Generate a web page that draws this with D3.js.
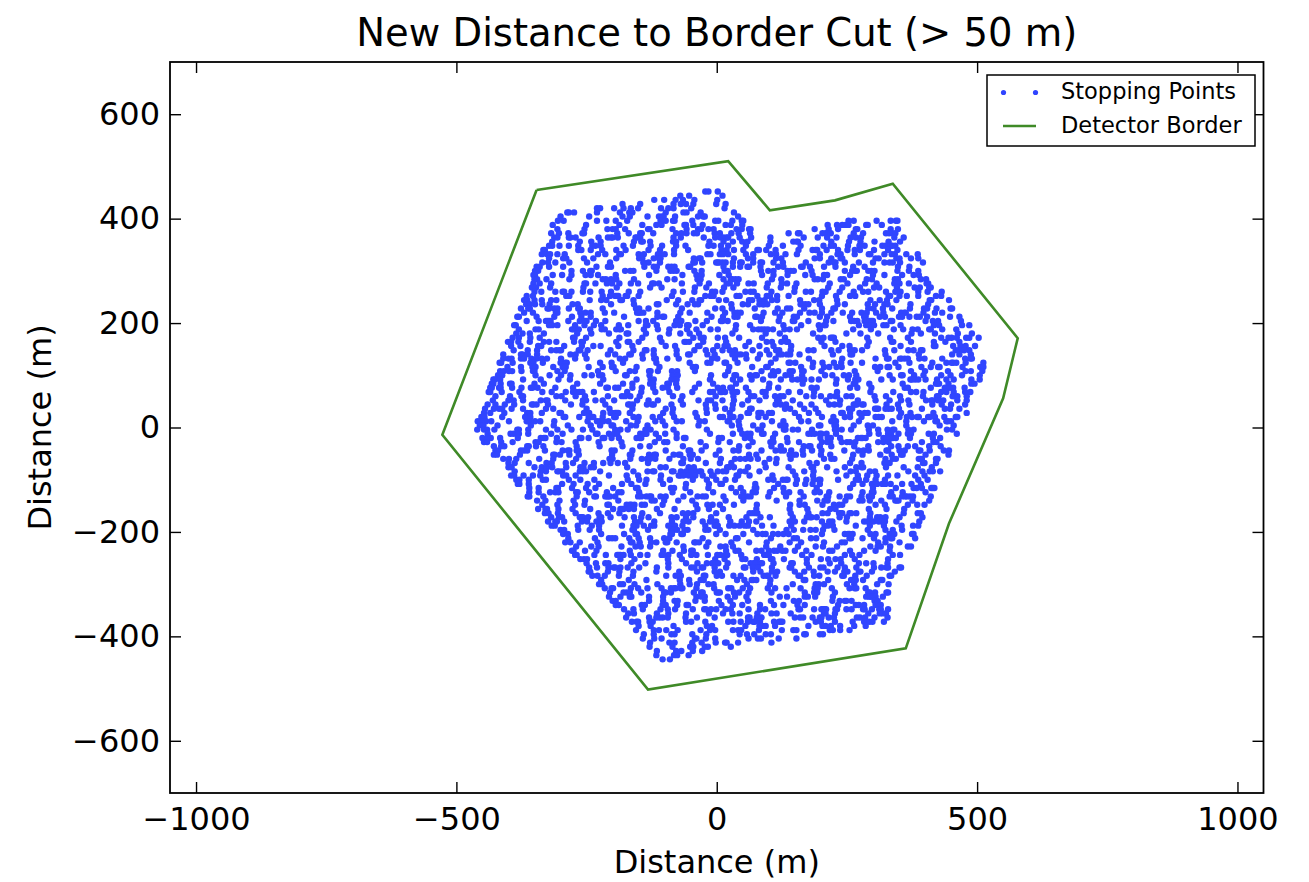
<!DOCTYPE html>
<html><head><meta charset="utf-8">
<script src="https://cdn.jsdelivr.net/npm/d3@7/dist/d3.min.js"></script>
<style>body{margin:0;background:#fff;}svg{display:block;}</style>
</head><body><svg id="chart" width="1309" height="882"></svg>
<script>
const titleText = "New Distance to Border Cut (> 50 m)";
const xLabelText = "Distance (m)";
const yLabelText = "Distance (m)";
const xTicks = [-1000, -500, 0, 500, 1000];
const yTicks = [-600, -400, -200, 0, 200, 400, 600];
const xDomain = [-1050, 1050];
const yDomain = [-700, 700];
const legendLabels = ["Stopping Points", "Detector Border"];
// Detector border polygon (m)
const borderX = [-346, 22, 102, 227, 338, 578, 550, 446, 363, -132, -527, -346];
const borderY = [455, 510, 416, 435, 467, 171, 56, -184, -423, -502, -14, 455];
// Stopping points read band by band: [y, x1, x2, ...] (m)
const stopRows = [
[452,-22,-16,2],
[444,-70,-53,11],
[436,-120,-101,-79,-65,-43,1],
[428,-181,-147,-83,-69,-59,-45,-1,17],
[420,-230,-224,-197,-179,-165,-151,-107,-93,-83,-49,15],
[412,-287,-284,-274,-230,-186,-168,-162,-98,-64,-58,-31,33],
[404,-300,-245,-181,-167,-133,-111,-105,-102,-80,-36,-26,-23,41],
[396,-305,-294,-230,-212,-194,-172,-108,-98,-84,-81,-47,-3,3,30,48,51,253,263,307,334,344,347],
[388,-315,-251,-187,-143,-116,-106,-62,-59,-45,-27,17,27,49,213,231,241,247,253,287,290,317],
[380,-306,-254,-210,-200,-194,-176,-132,-129,-85,-58,-36,-30,-16,-6,38,48,62,65,188,215,233,267,270,334,348],
[372,-318,-303,-285,-258,-255,-191,-169,-147,-144,-122,-78,-68,-58,-44,-38,-4,6,28,42,64,138,156,159,203,209,219,263,281,325,331,337,343],
[364,-312,-306,-284,-281,-271,-227,-209,-203,-200,-190,-156,-153,-147,-83,-69,-25,-3,7,13,19,22,44,66,103,167,194,212,230,257,267,277,341,359],
[356,-316,-263,-241,-223,-159,-145,-142,-128,-84,-78,-14,13,31,49,59,103,147,153,156,220,254,276,303,330,352],
[348,-322,-316,-302,-284,-266,-239,-233,-223,-179,-161,-127,-105,-78,-60,-16,-6,8,22,56,100,127,161,205,219,225,252,274,284,318,324,334,337,343],
[340,-333,-330,-266,-260,-242,-220,-193,-175,-131,-109,-82,-55,9,19,33,51,78,81,95,113,157,184,190,193,211,233,251,265,275,302,329,347],
[332,-336,-326,-320,-306,-292,-228,-214,-187,-184,-150,-140,-113,-110,-100,-82,-18,-12,6,12,22,56,70,104,114,132,154,198,232,235,238,265,292,295,322,336,342,364,386],
[324,-322,-295,-289,-255,-237,-193,-149,-143,-121,-111,-108,-44,-34,-31,33,60,70,114,124,188,198,220,238,241,305,311,345,351,373,387],
[316,-335,-324,-310,-283,-249,-205,-141,-131,-109,-45,-42,-28,-1,2,5,11,17,31,45,48,70,84,87,109,127,171,215,225,228,246,273,300,322,332,338,352,396],
[308,-346,-340,-322,-295,-231,-209,-203,-139,-121,-115,-93,-87,-81,-54,-51,13,31,45,59,62,84,118,128,162,165,179,206,228,262,284,348,370],
[300,-349,-343,-279,-257,-243,-240,-176,-166,-160,-116,-89,-83,-77,-43,-29,15,21,85,99,109,136,142,148,182,246,260,266,269,291,297,303,347,369,387],
[292,-352,-349,-315,-297,-279,-252,-242,-228,-194,-130,-66,-39,-29,5,23,87,109,136,170,184,206,212,256,300,322,356,378,388],
[284,-350,-345,-327,-283,-219,-213,-203,-193,-159,-95,-81,-37,-31,13,27,30,36,42,106,124,188,194,204,238,244,288,298,342,348,392,402],
[276,-352,-340,-318,-254,-251,-233,-211,-201,-187,-165,-151,-124,-121,-111,-67,-33,-15,19,25,39,61,71,98,125,135,153,217,251,285,307,341,351,369,403,406],
[268,-355,-347,-320,-256,-192,-128,-106,-42,-20,14,32,96,123,150,214,241,275,302,312,346,380,390,408,411],
[260,-350,-337,-310,-296,-293,-279,-257,-243,-221,-203,-169,-147,-83,-65,-43,-9,-3,11,55,65,71,105,149,171,181,203,209,236,263,281,291,325,343,353,387,405,432],
[252,-365,-353,-289,-283,-219,-205,-195,-192,-189,-175,-172,-150,-86,-22,-12,-6,38,44,78,96,102,116,138,202,229,256,266,330,333,351,365,387,421,431],
[244,-370,-367,-364,-350,-336,-318,-308,-244,-222,-212,-185,-182,-160,-96,-74,-47,-33,-30,4,18,62,68,82,92,106,116,160,187,197,231,295,313,327,345,409,412,446],
[236,-366,-359,-349,-335,-321,-277,-267,-203,-159,-115,-112,-78,-56,-42,-36,28,50,60,82,88,91,97,161,164,170,176,198,232,246,290,304,322,328,372,406],
[228,-376,-362,-359,-325,-322,-312,-306,-284,-266,-263,-219,-155,-149,-131,-67,-3,11,29,73,117,135,141,168,202,224,227,291,301,319,337,371,398,404,422,449,452],
[220,-370,-353,-309,-306,-262,-252,-242,-215,-197,-153,-150,-147,-141,-114,-70,-52,-18,16,34,40,46,90,112,126,160,178,188,202,220,242,260,278,288,306,320,354,360,363,397,419,433],
[212,-383,-380,-346,-312,-278,-260,-242,-178,-114,-104,-101,-74,-10,12,34,40,74,77,87,121,148,154,198,212,256,283,286,313,323,350,356,370,384,390,404,448,466],
[204,-365,-342,-328,-325,-322,-319,-285,-263,-253,-250,-232,-214,-150,-136,-122,-78,-68,-41,-19,8,11,21,85,119,146,149,176,210,224,258,264,270,284,294,297,300,334,337,401,415,425,469],
[196,-389,-386,-322,-316,-306,-272,-254,-236,-222,-188,-170,-136,-133,-115,-81,-71,-57,-54,-27,37,64,128,162,196,206,209,273,287,293,296,302,320,326,353,417,427,471,485],
[188,-380,-348,-342,-278,-275,-265,-243,-221,-215,-193,-187,-184,-140,-113,-91,-57,-39,-12,2,36,70,80,86,92,98,108,130,140,154,198,262,296,340,358,376,386,408,411,433,460],
[180,-385,-373,-359,-332,-268,-241,-207,-173,-170,-136,-92,-70,-52,-34,30,94,121,185,249,276,310,374,392,419,463,490],
[172,-392,-380,-358,-340,-276,-273,-251,-187,-143,-109,-45,-31,-25,2,16,43,87,131,195,205,219,222,225,289,333,367,431,445,451,461,479,485,503],
[164,-401,-395,-381,-359,-332,-322,-308,-274,-260,-257,-193,-171,-168,-150,-106,-62,-59,-53,-26,18,62,96,106,124,134,137,201,228,292,336,339,373,417,439,466],
[156,-395,-377,-343,-337,-293,-259,-237,-223,-189,-162,-98,-80,-36,-33,1,15,21,55,82,109,143,207,241,255,289,353,417,420,454,468,478,496],
[148,-390,-363,-345,-318,-308,-302,-299,-265,-262,-248,-204,-160,-138,-135,-121,-77,-43,-21,-7,11,25,35,69,96,114,120,142,176,186,220,234,256,259,265,279,323,341,368,378,392,395,459,465,475,485],
[140,-410,-376,-373,-363,-345,-281,-271,-253,-209,-195,-168,-165,-143,-121,-77,-55,-52,-18,-4,30,40,46,56,83,101,119,125,135,141,159,223,257,260,324,388,452,466,488],
[132,-410,-400,-394,-376,-370,-356,-346,-336,-326,-299,-272,-250,-186,-176,-142,-120,-117,-95,-73,-9,1,35,57,79,113,177,241,305,327,330,352,355,361,367,389,399,433,477,487,490],
[124,-417,-414,-392,-358,-352,-334,-300,-297,-291,-288,-224,-202,-180,-116,-52,-18,-12,15,18,40,104,138,141,151,185,203,225,239,257,279,343,370,414,441,451,454,460,478,512],
[116,-402,-376,-354,-348,-314,-296,-290,-246,-219,-201,-198,-154,-110,-46,-40,24,68,95,98,162,184,206,216,230,240,304,314,328,331,349,393,411,425,428,472,506,512],
[108,-416,-409,-399,-393,-375,-353,-350,-306,-292,-228,-194,-167,-157,-130,-127,-113,-86,-76,-42,22,86,108,118,140,146,164,167,201,265,309,373,400,444,478,488,510],
[100,-420,-412,-348,-321,-299,-281,-254,-240,-226,-220,-176,-173,-129,-85,-75,-11,16,34,37,64,74,77,104,110,132,142,164,208,222,244,254,268,332,354,357,379,397,431,449,471,505],
[92,-429,-426,-416,-372,-338,-304,-282,-218,-154,-127,-121,-87,-77,-13,31,45,67,89,123,145,155,165,168,182,196,230,252,266,272,316,338,372,375,381,387,401,423,441,455,489,505],
[84,-432,-429,-415,-397,-394,-350,-332,-268,-224,-180,-162,-128,-122,-95,-92,-78,-34,-7,37,101,165,229,263,266,293,357,421,424,427,445,489,495],
[76,-435,-432,-418,-415,-393,-375,-357,-354,-344,-310,-276,-212,-209,-195,-189,-162,-144,-122,-104,-94,-76,-42,2,12,26,29,56,100,118,182,192,256,270,297,361,367,411,438,448,454,476],
[68,-438,-435,-413,-379,-335,-317,-290,-276,-270,-264,-258,-236,-172,-145,-118,-91,-47,-13,-7,7,10,16,30,33,39,61,88,94,138,160,187,231,295,339,373,383,397,431,441,455,477,487],
[60,-425,-397,-375,-372,-308,-298,-271,-253,-209,-182,-176,-166,-148,-84,-66,-2,32,66,72,94,112,122,128,172,186,200,218,228,231,249,259,303,325,352,396,423,426,453,456,462,480],
[52,-430,-400,-390,-372,-338,-328,-325,-291,-257,-251,-233,-219,-197,-153,-131,-113,-69,-35,-17,-11,11,33,60,82,116,119,146,210,237,271,305,332,354,368,402,412,415,425,435,462,480],
[44,-440,-425,-407,-389,-355,-352,-346,-324,-280,-258,-214,-170,-167,-161,-134,-124,-121,-87,-65,-21,-3,31,49,113,123,133,160,182,216,226,236,263,266,269,279,282,326,348,370,414,432,450,477],
[36,-445,-428,-418,-412,-394,-372,-328,-314,-250,-206,-162,-98,-84,-20,-2,16,30,64,67,131,141,168,190,254,260,304,307,310,324,330,336,350,394,438,448,466],
[28,-447,-435,-408,-364,-358,-336,-302,-299,-255,-245,-218,-204,-201,-195,-192,-189,-167,-103,-85,-41,-19,25,59,62,80,83,86,100,106,150,177,195,239,242,256,274,284,290,354,372,416,480],
[20,-452,-446,-412,-368,-358,-294,-291,-264,-246,-240,-237,-219,-197,-194,-160,-150,-123,-109,-82,-38,6,12,26,32,46,80,94,158,202,224,246,256,278,305,311,317,351,365,375,385,388,406,409,419,437,459,462],
[12,-459,-453,-443,-433,-399,-365,-362,-359,-349,-339,-312,-248,-230,-224,-218,-208,-174,-152,-118,-104,-77,-67,-33,-23,21,24,42,106,128,162,176,220,226,229,273,337,364,398,420,423,441,444,450],
[4,-455,-448,-421,-357,-313,-286,-242,-224,-202,-199,-165,-155,-133,-99,-35,29,43,70,88,122,132,196,199,226,229,263,290,300,364,428,455],
[-4,-460,-447,-441,-427,-383,-380,-362,-328,-306,-279,-257,-239,-195,-185,-171,-137,-127,-83,-19,45,79,85,129,132,146,156,183,227,230,240,258,292,310,328,338,341,368,378,442,452],
[-12,-440,-396,-390,-380,-362,-318,-296,-232,-229,-207,-197,-191,-147,-141,-138,-135,-117,-99,-77,-13,31,49,59,65,87,90,112,176,182,188,198,201,211,229,293,311,329,335,349,367,373,407,417,461],
[-20,-450,-440,-434,-416,-382,-338,-332,-329,-307,-263,-260,-246,-219,-216,-202,-188,-154,-148,-145,-111,-77,-63,-60,4,10,54,64,108,135,199,213,219,237,271,277,280,286,320,326,332,338,344,371,415,429],
[-28,-447,-441,-414,-392,-348,-342,-308,-298,-271,-227,-183,-119,-101,-95,-31,3,25,69,103,109,136,158,202,212,218,240,250,256,266,310,320,330,394,416,422],
[-36,-428,-414,-408,-364,-361,-347,-333,-269,-225,-181,-147,-129,-65,-21,43,61,105,123,167,177,180,198,220,264,291,335,349,367,381,408,430],
[-44,-425,-420,-376,-370,-364,-330,-296,-286,-283,-269,-266,-202,-196,-162,-98,-54,-51,-29,5,32,42,86,113,123,129,143,165,183,201,245,272,282,292,326,329,351,361,388,391,409,436,446],
[-52,-428,-422,-378,-314,-311,-301,-283,-265,-201,-167,-164,-130,-120,-117,-83,-73,-70,-52,-46,-2,62,76,140,146,152,166,200,218,262,280,314,336,354,357,401,445],
[-60,-410,-399,-385,-341,-314,-270,-206,-200,-166,-144,-134,-128,-118,-91,-64,-50,-36,8,35,45,55,65,79,101,115,142,206,220,226,260,324,338,344,388,391,394,421,424],
[-68,-400,-388,-361,-327,-317,-290,-276,-254,-236,-218,-204,-190,-176,-132,-68,-65,-21,6,28,92,114,178,192,256,278,322,332,396,399,421],
[-76,-400,-394,-350,-336,-326,-316,-289,-262,-256,-242,-236,-172,-108,-98,-54,-44,20,23,33,60,94,138,182,185,212,246,268,278,281,325,359,386,413],
[-84,-388,-338,-328,-306,-303,-297,-263,-257,-251,-224,-160,-133,-123,-120,-86,-83,-69,-59,-49,-39,-33,-30,-12,2,12,18,45,55,82,146,168,186,230,257,267,294,304,368,395,409,415,429],
[-92,-395,-389,-371,-353,-339,-295,-289,-271,-207,-173,-151,-107,-73,-70,-64,-54,-44,-41,-27,-9,-6,38,41,63,107,151,185,249,271,289,307,329,347,381,399],
[-100,-385,-379,-361,-334,-328,-284,-262,-235,-171,-149,-135,-108,-90,-46,-19,-1,17,35,99,109,127,133,136,154,172,186,196,199,233,267,273,287,305,323,387,405],
[-108,-382,-379,-361,-297,-275,-248,-226,-182,-164,-137,-103,-59,-15,7,10,74,118,152,170,184,198,262,280,298,308,318,324,334,356,374,392],
[-116,-360,-342,-308,-305,-278,-251,-233,-199,-155,-152,-88,-82,-60,-16,28,46,73,76,110,128,192,256,300,344,378,384,394,412,415,418],
[-124,-360,-342,-320,-310,-304,-270,-267,-245,-211,-189,-183,-149,-85,-51,-7,37,51,69,75,102,129,139,161,188,198,216,280,298,301,335,357,401],
[-132,-363,-360,-333,-269,-235,-232,-214,-211,-208,-205,-195,-151,-145,-135,-129,-126,-108,-98,-64,-37,-27,-21,13,47,53,59,65,99,133,167,211,214,236,250,256,278,292,298,332,338,356,362,365,371,377,411],
[-140,-345,-329,-302,-275,-253,-189,-125,-119,-101,-74,-47,17,51,115,159,193,207,213,247,274,280,294,316,343,346,349,376,408],
[-148,-335,-306,-272,-254,-210,-207,-173,-167,-164,-158,-144,-138,-104,-40,-18,-8,6,33,77,141,159,169,203,225,235,241,305,323,367,385,399],
[-156,-343,-329,-326,-304,-277,-243,-199,-185,-182,-179,-169,-159,-115,-81,-37,-15,12,76,140,174,218,228,292,326,360],
[-164,-330,-323,-305,-271,-227,-209,-187,-143,-109,-65,-55,-45,-1,63,69,75,78,142,176,203,213,235,238,241,255,258,268,295,359,386,392],
[-172,-318,-303,-297,-263,-260,-257,-247,-225,-222,-204,-177,-159,-145,-131,-87,-77,-59,-45,-11,23,57,84,102,146,173,179,182,192,236,250,294,308,314,324,351,395],
[-180,-324,-310,-307,-293,-259,-249,-231,-221,-157,-147,-120,-86,-64,-54,-27,-13,-7,-1,26,48,62,76,140,150,168,202,216,222,249,283,289,295,301,311,317,323,345,389],
[-188,-317,-311,-267,-240,-226,-182,-160,-154,-140,-126,-120,-93,-83,-80,-66,-22,-4,-1,2,24,34,44,54,60,87,109,143,207,213,223,267,294,321,355,377,387],
[-196,-300,-293,-266,-244,-226,-162,-159,-132,-88,-82,-76,-62,-56,-22,-16,6,70,134,148,166,180,190,204,226,290,324,338,356],
[-204,-295,-286,-222,-178,-156,-153,-89,-86,-68,-65,-1,17,51,78,88,94,108,118,128,138,202,246,252,255,261,295,305,332,338,341,375,378],
[-212,-285,-234,-207,-201,-195,-168,-150,-128,-101,-91,-27,37,40,104,148,154,181,191,255,258,280,302,324,334,337,381],
[-220,-291,-281,-263,-229,-165,-162,-148,-126,-116,-98,-95,-77,-43,-40,-34,-16,28,62,96,140,162,206,240,246,310,324,351],
[-228,-270,-241,-227,-183,-156,-146,-128,-64,-20,7,17,31,95,122,156,190,204,231,295,309,315,333,367,373],
[-236,-278,-275,-253,-231,-167,-103,-85,-63,-49,-46,18,36,42,76,86,100,110,116,126,132,150,172,216,222,256,283,305,332],
[-244,-272,-269,-235,-213,-191,-188,-185,-179,-165,-147,-133,-106,-103,-93,-71,-49,-39,-17,1,7,17,20,47,91,94,97,100,164,182,246,260,274,338,352],
[-252,-262,-255,-249,-185,-158,-94,-67,-3,15,49,55,77,104,107,129,173,200,214,228,238,265,329],
[-260,-250,-232,-214,-208,-164,-137,-93,-59,-37,-19,-9,-6,-3,3,21,65,71,74,84,87,109,143,146,173,217,239,273,287,301,328],
[-268,-245,-230,-208,-198,-195,-185,-171,-149,-115,-93,-49,-43,-29,-26,-4,18,52,55,69,79,106,140,143,177,199,205,232,246,268,302,316,326,329,351,354],
[-276,-246,-243,-209,-187,-160,-116,-72,-38,-4,6,70,84,106,116,150,168,186,213,227,245,251,273,276,298,342],
[-284,-239,-229,-215,-188,-161,-97,-79,-69,-25,-22,0,10,32,46,90,96,99,113,157,160,187,197,241,244,266,288,332,335],
[-292,-222,-169,-135,-71,-53,-31,-25,39,53,67,70,76,103,167,170,214,258,261,264,267,281,315,318],
[-300,-226,-220,-186,-180,-158,-114,-70,-52,-38,-16,-6,58,102,146,190,196,206,250,264,308,330],
[-308,-215,-202,-199,-165,-151,-133,-106,-88,-82,-79,-69,-66,-39,-5,22,28,50,64,98,112,134,161,188,194,221,255,265,268,286],
[-316,-205,-179,-173,-167,-145,-101,-98,-88,-44,-30,-27,0,3,6,33,43,61,105,169,187,193,227,291,294,304,326,329],
[-324,-207,-185,-167,-164,-130,-103,-39,-29,-23,21,35,57,121,135,169,175,189,223,287,293,296,299,305,319],
[-332,-200,-194,-130,-103,-81,-75,-41,-23,4,26,60,104,148,158,222,236,246,249,259,303,309],
[-340,-194,-188,-144,-138,-104,-98,-76,-58,-55,9,31,49,83,110,128,155,169,233,267,273,283,305,315],
[-348,-178,-160,-142,-108,-94,-80,-46,-24,-21,-11,-1,17,27,61,83,93,157,160,187,201,204,207,210,228,231,249,259,281,284,298,312,315,329],
[-356,-170,-159,-115,-93,-59,-15,12,30,44,78,105,115,142,206,209,227,291,313,319,325],
[-364,-174,-130,-116,-110,-104,-94,-60,-38,-4,60,63,77,80,86,150,160,166,184,198,201,215,225,269,275,285,303,328],
[-372,-163,-154,-151,-129,-123,-59,-49,-22,22,32,46,60,70,73,83,110,120,123,126,190,200,227,261,283,293,299,321],
[-380,-150,-127,-83,-19,-9,55,82,88,94,112,176,203,209,219,237,264,286],
[-388,-155,-121,-111,-97,-75,-31,-13,-3,31,41,47,81,125,147,153,217,223,237,255],
[-396,-140,-121,-87,-81,-47,-20,44,58,72,94,104,168,171,198,204],
[-404,-142,-120,-106,-42,-39,-21,-3,61,79,85,119,153],
[-412,-128,-91,-81,-47,-29,-2,16,19,41,105],
[-420,-129,-85,-51,-45,-23,-17,27],
[-428,-115,-78,-68,-46,-28],
[-436,-116,-82,-76,-54],
[-444,-104,-90]
];

const FONT = "'DejaVu Sans', 'Liberation Sans', sans-serif";
const pointColor = "#3045ff";
const borderColor = "#3f8a27";
const W = 1309, H = 882;
const plot = {left: 170, right: 1263.5, top: 62, bottom: 793};

const svg = d3.select("#chart");
svg.append("rect").attr("width", W).attr("height", H).attr("fill", "#fff");

const x = d3.scaleLinear().domain(xDomain).range([plot.left, plot.right]);
const y = d3.scaleLinear().domain(yDomain).range([plot.bottom, plot.top]);

// points
const pts = stopRows.flatMap(r => r.slice(1).map(v => [v, r[0]]));
svg.append("g").selectAll("circle").data(pts).join("circle")
  .attr("cx", d => x(d[0])).attr("cy", d => y(d[1]))
  .attr("r", 3.2).attr("fill", pointColor);

// border
const line = d3.line().x(d => x(d[0])).y(d => y(d[1]));
svg.append("path").datum(borderX.map((v, i) => [v, borderY[i]]))
  .attr("d", line).attr("fill", "none").attr("stroke", borderColor)
  .attr("stroke-width", 2.6).attr("stroke-linejoin", "miter");

// axes (inward ticks on all sides)
const tickLen = 11;
const fmt = d3.format("d");
function styleAxis(g) {
  g.select(".domain").remove();
  g.selectAll(".tick line").attr("stroke", "#000").attr("stroke-width", 1.4);
  g.selectAll("text").attr("font-family", FONT).attr("font-size", 32).attr("fill", "#000");
}
svg.append("g").attr("transform", `translate(0,${plot.bottom})`)
  .call(d3.axisBottom(x).tickValues(xTicks).tickFormat(fmt).tickSize(-tickLen).tickPadding(14))
  .call(styleAxis);
svg.append("g").attr("transform", `translate(0,${plot.top})`)
  .call(d3.axisTop(x).tickValues(xTicks).tickSize(-tickLen).tickFormat(""))
  .call(styleAxis);
svg.append("g").attr("transform", `translate(${plot.left},0)`)
  .call(d3.axisLeft(y).tickValues(yTicks).tickFormat(fmt).tickSize(-tickLen).tickPadding(10))
  .call(styleAxis);
svg.append("g").attr("transform", `translate(${plot.right},0)`)
  .call(d3.axisRight(y).tickValues(yTicks).tickSize(-tickLen).tickFormat(""))
  .call(styleAxis);

// frame
svg.append("rect").attr("x", plot.left).attr("y", plot.top)
  .attr("width", plot.right - plot.left).attr("height", plot.bottom - plot.top)
  .attr("fill", "none").attr("stroke", "#000").attr("stroke-width", 1.8);

// title and labels
svg.append("text").attr("x", (plot.left + plot.right) / 2).attr("y", 46)
  .attr("text-anchor", "middle").attr("font-family", FONT).attr("font-size", 38.5)
  .text(titleText);
svg.append("text").attr("x", (plot.left + plot.right) / 2).attr("y", 873)
  .attr("text-anchor", "middle").attr("font-family", FONT).attr("font-size", 32)
  .text(xLabelText);
svg.append("text").attr("transform", `translate(51,${(plot.top + plot.bottom) / 2}) rotate(-90)`)
  .attr("text-anchor", "middle").attr("font-family", FONT).attr("font-size", 32)
  .text(yLabelText);

// legend
const lg = svg.append("g");
lg.append("rect").attr("x", 987).attr("y", 75).attr("width", 268).attr("height", 71)
  .attr("fill", "#fff").attr("stroke", "#000").attr("stroke-width", 1.5);
lg.selectAll("circle.leg").data([1003.5, 1035.5]).join("circle").attr("class", "leg")
  .attr("cx", d => d).attr("cy", 92.5).attr("r", 2.6).attr("fill", pointColor);
lg.append("line").attr("x1", 1003).attr("x2", 1036).attr("y1", 126).attr("y2", 126)
  .attr("stroke", borderColor).attr("stroke-width", 2.6);
lg.selectAll("text").data(legendLabels).join("text")
  .attr("x", 1061).attr("y", (d, i) => i === 0 ? 99 : 133)
  .attr("font-family", FONT).attr("font-size", 22.5).text(d => d);
</script>
</body></html>
